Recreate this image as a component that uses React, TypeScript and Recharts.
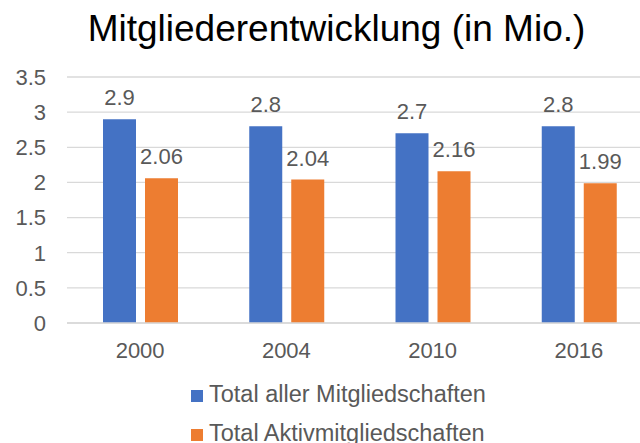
import React from 'react';
import { BarChart, Bar, XAxis, YAxis, CartesianGrid, LabelList, Legend } from 'recharts';

const categories = ['2000', '2004', '2010', '2016'];
const totalAller = [2.9, 2.8, 2.7, 2.8];
const totalAktiv = [2.06, 2.04, 2.16, 1.99];
const yTicks = [0, 0.5, 1, 1.5, 2, 2.5, 3, 3.5];
const seriesNames = ['Total aller Mitgliedschaften', 'Total Aktivmitgliedschaften'];
const seriesColors = ['#4472C4', '#ED7D31'];

const data = categories.map((c, i) => ({ year: c, total: totalAller[i], aktiv: totalAktiv[i] }));

const FONT = '"Liberation Sans", Arial, Helvetica, sans-serif';
const TEXT = '#595959';

const renderLegend = () => {
  return (
    <div style={{ fontFamily: FONT, fontSize: 23.5, color: TEXT }}>
      {seriesNames.map((name, i) => (
        <div key={i} style={{ display: 'flex', alignItems: 'center', height: 39, lineHeight: '39px', whiteSpace: 'nowrap' }}>
          <span style={{ display: 'inline-block', width: 12, height: 12, background: seriesColors[i], marginRight: 6, marginTop: 3 }} />
          <span>{name}</span>
        </div>
      ))}
    </div>
  );
};

export default function App() {
  return (
    <div style={{ position: 'fixed', left: 0, top: 0, width: 640, height: 443, overflow: 'hidden', background: '#fff' }}>
      <div
        style={{
          position: 'absolute',
          left: 0,
          top: 10,
          width: 673,
          textAlign: 'center',
          fontFamily: FONT,
          fontSize: 37,
          lineHeight: '37px',
          color: '#000',
          whiteSpace: 'nowrap',
        }}
      >
        Mitgliederentwicklung (in Mio.)
      </div>
      <div style={{ position: 'absolute', left: 0, top: 0 }}>
        <BarChart
          width={660}
          height={460}
          data={data}
          margin={{ top: 77, right: 8, bottom: 107, left: 0 }}
          barSize={33}
          barGap={9}
        >
          <CartesianGrid vertical={false} stroke="#D9D9D9" strokeWidth={1.3} />
          <XAxis
            dataKey="year"
            height={30}
            axisLine={{ stroke: '#D9D9D9', strokeWidth: 1.3 }}
            tickLine={false}
            tickMargin={13}
            tick={{ fill: TEXT, fontSize: 22, fontFamily: FONT }}
          />
          <YAxis
            width={67}
            domain={[0, 3.5]}
            ticks={yTicks}
            axisLine={false}
            tickLine={false}
            tickMargin={15}
            tick={{ fill: TEXT, fontSize: 22, fontFamily: FONT }}
          />
          <Legend
            layout="horizontal"
            align="center"
            verticalAlign="middle"
            wrapperStyle={{ top: 375, left: 191, width: 420 }}
            content={renderLegend}
          />
          <Bar dataKey="total" name={seriesNames[0]} fill={seriesColors[0]} isAnimationActive={false}>
            <LabelList dataKey="total" position="top" offset={14} fill={TEXT} fontSize={22} fontFamily={FONT} />
          </Bar>
          <Bar dataKey="aktiv" name={seriesNames[1]} fill={seriesColors[1]} isAnimationActive={false}>
            <LabelList dataKey="aktiv" position="top" offset={14} fill={TEXT} fontSize={22} fontFamily={FONT} />
          </Bar>
        </BarChart>
      </div>
    </div>
  );
}
